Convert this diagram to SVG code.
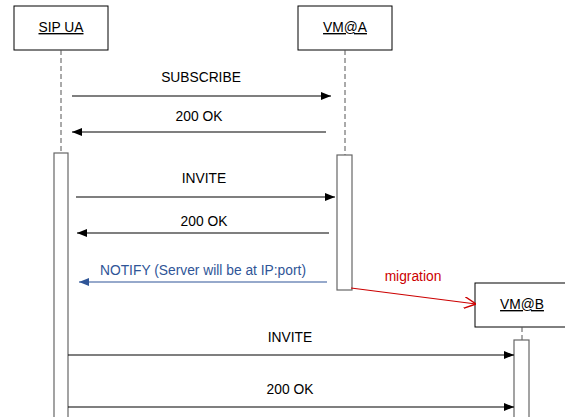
<svg xmlns="http://www.w3.org/2000/svg" width="565" height="417" viewBox="0 0 565 417">
<style>
text{font-family:"Liberation Sans",Arial,sans-serif;font-size:13.8px;fill:#000}
.box{fill:#fff;stroke:#000;stroke-width:1}
.life{stroke:#555;stroke-width:1;stroke-dasharray:5,3}
.act{fill:#fff;stroke:#666;stroke-width:1.2}
.msg{stroke:#000;stroke-width:1.2;fill:none}
.blue{stroke:#2f5597}
.u{text-decoration:underline}
</style>
<defs>
<marker id="ah" viewBox="0 0 10 10" refX="10" refY="5" markerWidth="10" markerHeight="10" markerUnits="userSpaceOnUse" orient="auto"><path d="M0,1 L10,5 L0,9 z" fill="#000"/></marker>
<marker id="ahb" viewBox="0 0 10 10" refX="10" refY="5" markerWidth="10" markerHeight="10" markerUnits="userSpaceOnUse" orient="auto"><path d="M0,1 L10,5 L0,9 z" fill="#2f5597"/></marker>
<marker id="ahr" viewBox="0 0 10 10" refX="10" refY="5" markerWidth="12" markerHeight="12" markerUnits="userSpaceOnUse" orient="auto"><path d="M0,0 L10,5 L0,10" fill="none" stroke="#cc0000" stroke-width="1.2"/></marker>
</defs>
<g id="sipua">
<rect class="box" x="14" y="6" width="94" height="44"/>
<text class="u" x="61" y="32" text-anchor="middle">SIP UA</text>
<line class="life" x1="61" y1="50" x2="61" y2="153"/>
<rect class="act" x="54" y="153" width="14" height="270"/>
</g>
<g id="vma">
<rect class="box" x="298" y="6" width="94" height="44"/>
<text class="u" x="345" y="32" text-anchor="middle">VM@A</text>
<line class="life" x1="345" y1="50" x2="345" y2="155"/>
<rect class="act" x="337" y="155" width="15" height="135"/>
</g>
<g id="vmb">
<rect class="box" x="475" y="283" width="94" height="44"/>
<text class="u" x="522" y="309" text-anchor="middle">VM@B</text>
<line class="life" x1="522" y1="327" x2="522" y2="340"/>
<rect class="act" x="514" y="340" width="15" height="80"/>
</g>
<g id="connectors">
<line class="msg" x1="72" y1="96" x2="331" y2="96" marker-end="url(#ah)"/>
<text x="201" y="82" text-anchor="middle">SUBSCRIBE</text>
<line class="msg" x1="326" y1="132" x2="72" y2="132" marker-end="url(#ah)"/>
<text x="199" y="121" text-anchor="middle">200 OK</text>
<line class="msg" x1="76" y1="197" x2="335" y2="197" marker-end="url(#ah)"/>
<text x="204" y="183" text-anchor="middle">INVITE</text>
<line class="msg" x1="329" y1="233" x2="77" y2="233" marker-end="url(#ah)"/>
<text x="204" y="226" text-anchor="middle">200 OK</text>
<line class="msg blue" x1="327" y1="282" x2="79" y2="282" marker-end="url(#ahb)"/>
<text x="203" y="275" text-anchor="middle" style="fill:#2f5597">NOTIFY (Server will be at IP:port)</text>
<line x1="351" y1="288" x2="476" y2="304" stroke="#cc0000" stroke-width="1.2" marker-end="url(#ahr)"/>
<text x="413" y="281" text-anchor="middle" style="fill:#cc0000">migration</text>
<line class="msg" x1="68" y1="355" x2="514" y2="355" marker-end="url(#ah)"/>
<text x="290" y="342" text-anchor="middle">INVITE</text>
<line class="msg" x1="68" y1="407" x2="514" y2="407" marker-end="url(#ah)"/>
<text x="290" y="394" text-anchor="middle">200 OK</text>
</g>
</svg>
